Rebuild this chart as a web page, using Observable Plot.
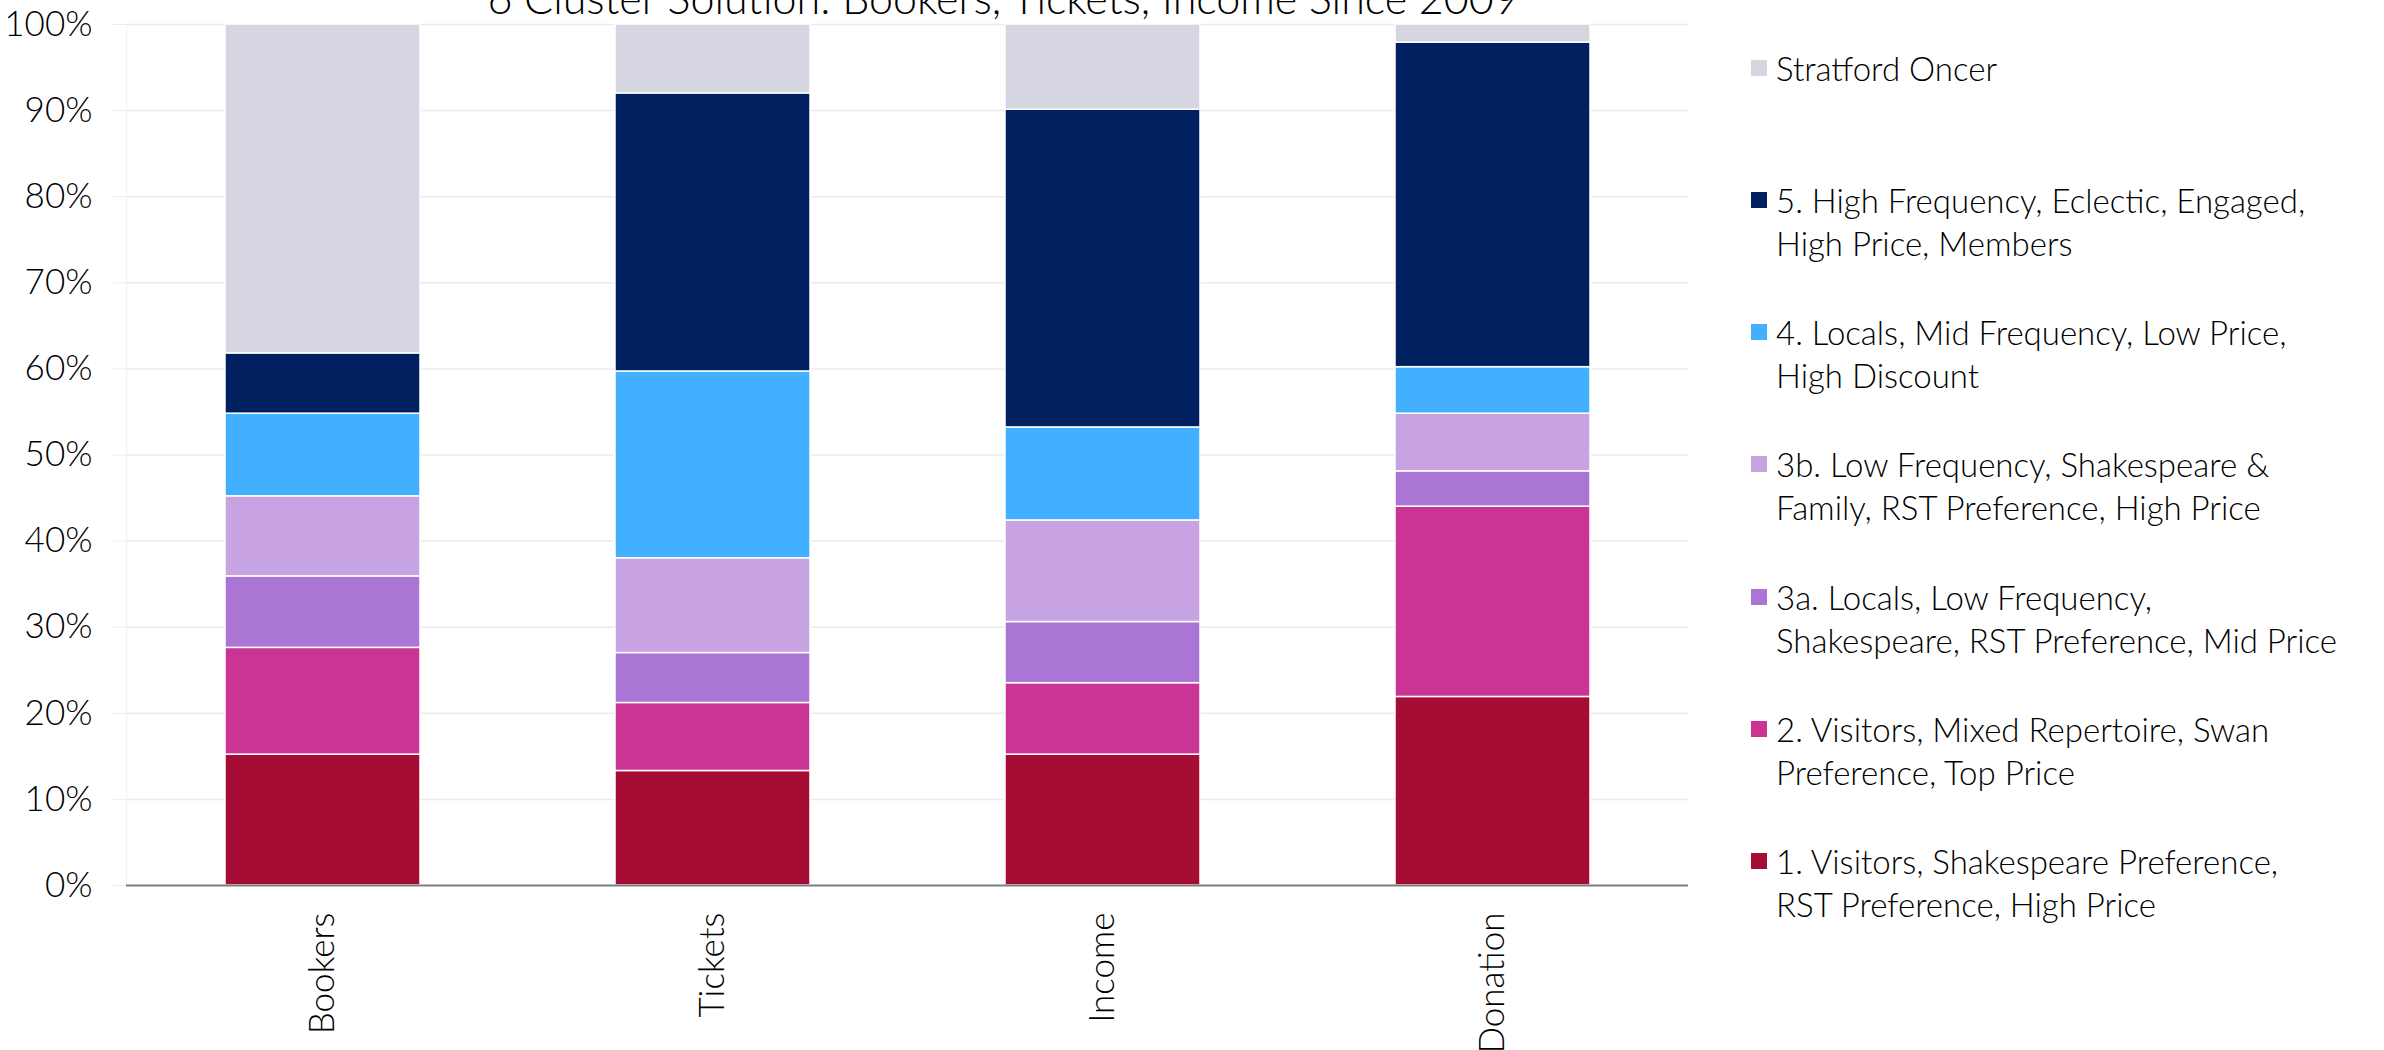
<!DOCTYPE html>
<html>
<head>
<meta charset="utf-8">
<script src="https://cdn.jsdelivr.net/npm/d3@7"></script>
<script src="https://cdn.jsdelivr.net/npm/@observablehq/plot@0.6"></script>
<style>
  html, body { margin: 0; padding: 0; background: #fff; overflow: hidden; }
  #wrap { position: relative; width: 2384px; height: 1050px; font-family: Lato, "Open Sans", sans-serif; color: #000; }
  #title { position: absolute; top: -24px; left: 1003px; transform: translateX(-50%); white-space: nowrap;
           font-size: 43px; font-weight: 300; line-height: 1; }
  #chart { position: absolute; left: 0; top: 0; }
  .leg { position: absolute; left: 1751px; font-size: 33px; font-weight: 300; line-height: 43px; white-space: pre; }
  .sw { position: absolute; left: 0; top: 13px; width: 16px; height: 16px; }
  .lt { position: absolute; left: 25px; top: 0; }
</style>
</head>
<body>
<div id="wrap">
  <div id="chart"></div>
  <div id="title"></div>
  <div id="legend"></div>
</div>
<script>
const titleText = "6 Cluster Solution: Bookers, Tickets, Income Since 2009";
const categories = ["Bookers", "Tickets", "Income", "Donation"];
const segments = [
  "1. Visitors, Shakespeare Preference,\nRST Preference, High Price",
  "2. Visitors, Mixed Repertoire, Swan\nPreference, Top Price",
  "3a. Locals, Low Frequency,\nShakespeare, RST Preference, Mid Price",
  "3b. Low Frequency, Shakespeare &\nFamily, RST Preference, High Price",
  "4. Locals, Mid Frequency, Low Price,\nHigh Discount",
  "5. High Frequency, Eclectic, Engaged,\nHigh Price, Members",
  "Stratford Oncer"
];
const colors = ["#A60D34", "#CA3495", "#AB75D5", "#C7A3E1", "#42AFFF", "#002060", "#D6D5E2"];
// percentages per category (Bookers, Tickets, Income, Donation)
const s1 = [15.2, 13.3, 15.2, 21.9];
const s2 = [12.4, 7.9, 8.3, 22.1];
const s3a = [8.3, 5.8, 7.1, 4.1];
const s3b = [9.3, 11.0, 11.8, 6.7];
const s4 = [9.6, 21.7, 10.8, 5.4];
const s5 = [7.0, 32.3, 36.9, 37.7];
const sOncer = [38.2, 8.0, 9.9, 2.1];
const yTicks = [0, 10, 20, 30, 40, 50, 60, 70, 80, 90, 100];

const seriesValues = [s1, s2, s3a, s3b, s4, s5, sOncer];
const data = [];
seriesValues.forEach((vals, si) => {
  vals.forEach((v, ci) => data.push({category: categories[ci], series: segments[si], value: v}));
});

const plot = Plot.plot({
  width: 1720,
  height: 1050,
  marginLeft: 126,
  marginRight: 32,
  marginTop: 24,
  marginBottom: 165,
  style: {fontFamily: "Lato, 'Open Sans', sans-serif", fontSize: "35px", fontWeight: 300, color: "#000", background: "white"},
  x: {domain: categories, paddingInner: 0.5, paddingOuter: 0.25, label: null},
  y: {domain: [0, 100], label: null},
  color: {domain: segments, range: colors},
  marks: [
    Plot.gridY(yTicks, {stroke: "#ebebeb", strokeOpacity: 1, strokeWidth: 1.5}),
    Plot.frame({anchor: "left", stroke: "#f0f0f0", strokeOpacity: 1}),
    Plot.barY(data, {x: "category", y: "value", fill: "series", stroke: "white", strokeWidth: 1.5}),
    Plot.ruleY([0], {stroke: "#7f7f7f", strokeWidth: 2}),
    Plot.axisY(yTicks, {tickFormat: d => d + "%", tickSize: 13, stroke: "#ebebeb", tickPadding: 21, fill: "#000"}),
    Plot.axisX({tickRotate: -90, tickSize: 0, tickPadding: 27, fill: "#000"})
  ]
});
document.getElementById("chart").appendChild(plot);
document.getElementById("title").textContent = titleText;

const legend = document.getElementById("legend");
const order = [6, 5, 4, 3, 2, 1, 0];
order.forEach((si, i) => {
  const item = document.createElement("div");
  item.className = "leg";
  item.style.top = (68 + i * 132.3 - 21.5) + "px";
  const sw = document.createElement("div");
  sw.className = "sw";
  sw.style.background = colors[si];
  const t = document.createElement("div");
  t.className = "lt";
  t.textContent = segments[si];
  item.appendChild(sw);
  item.appendChild(t);
  legend.appendChild(item);
});
</script>
</body>
</html>
